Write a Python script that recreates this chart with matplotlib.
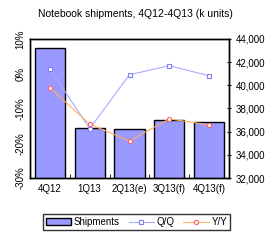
import matplotlib.pyplot as plt
import numpy as np

plt.rcParams['font.family'] = ['Liberation Sans', 'DejaVu Sans']

# data
quarters = ["4Q12", "1Q13", "2Q13(e)", "3Q13(f)", "4Q13(f)"]
shipments = [43200, 36300, 36200, 37000, 36800]   # k units, right axis
qq = [1.4, -15.8, -0.3, 2.3, -0.6]                 # %, left axis
yy = [-4.0, -14.5, -19.3, -13.0, -14.7]            # %, left axis

fig = plt.figure(figsize=(2.8, 2.4), dpi=100)
ax = fig.add_axes([0.107, 0.258, 0.711, 0.58])
ax2 = ax.twinx()
x = np.arange(len(quarters))

# bars (right scale)
bars = ax.bar(x, shipments, width=0.76, color="#9999FF", edgecolor="black",
              linewidth=1, label="Shipments")
ax.set_ylim(32000, 44000)
ax.set_yticks(range(32000, 44001, 2000))
ax.set_yticklabels([f"{v:,}" for v in range(32000, 44001, 2000)])
ax.set_xlim(-0.5, 4.5)
ax.set_xticks(x)
ax.set_xticklabels(quarters)
ax.set_xticks(np.arange(0.5, 4.5, 1), minor=True)
ax.tick_params(axis="x", which="major", length=0, labelsize=7, pad=4)
ax.tick_params(axis="x", which="minor", direction="in", length=3)

# lines (left scale)
l1, = ax2.plot(x, qq, color="#AAAAFF", linewidth=0.8, marker="s", markersize=3,
               markerfacecolor="white", markeredgecolor="#8080FF",
               markeredgewidth=0.8, label="Q/Q")
l2, = ax2.plot(x, yy, color="#FFB060", linewidth=0.8, marker="o", markersize=3,
               markerfacecolor="white", markeredgecolor="#FF6060",
               markeredgewidth=0.8, label="Y/Y")
ax2.set_ylim(-30, 10)
ax2.set_yticks(range(-30, 11, 10))
ax2.set_yticklabels([f"{v}%" for v in range(-30, 11, 10)], rotation=90, va="center")

# swap sides: bars scale on right, percent on left
ax.yaxis.set_ticks_position("right")
ax.yaxis.set_label_position("right")
ax2.yaxis.set_ticks_position("left")
ax2.yaxis.set_label_position("left")
ax.tick_params(axis="y", labelsize=7, length=3, direction="inout",
               left=False, labelleft=False, right=True, labelright=True)
ax2.tick_params(axis="y", labelsize=7, length=0, pad=3,
                left=True, labelleft=True, right=False, labelright=False)

for a in (ax, ax2):
    for s in a.spines.values():
        s.set_linewidth(1)

fig.text(0.485, 0.94, "Notebook shipments, 4Q12-4Q13 (k units)", ha="center",
         va="center", fontsize=7.5)

leg = fig.legend(handles=[bars, l1, l2], loc="center", bbox_to_anchor=(0.4875, 0.075),
                 ncol=3, fontsize=7, frameon=True, fancybox=False,
                 edgecolor="black", handlelength=2.6, handletextpad=0.3,
                 columnspacing=0.9, borderpad=0.3)
leg.get_frame().set_linewidth(1)

fig.savefig("out.png", dpi=100)
